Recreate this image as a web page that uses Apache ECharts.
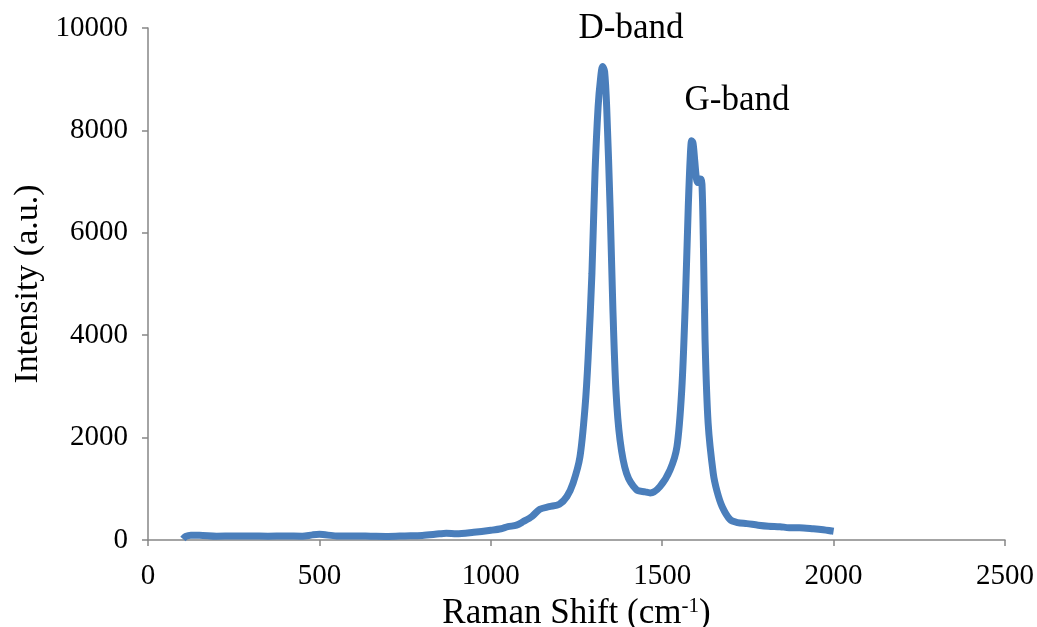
<!DOCTYPE html>
<html>
<head>
<meta charset="utf-8">
<script src="https://cdn.jsdelivr.net/npm/echarts@6/dist/echarts.min.js"></script>
<style>
  html, body { margin: 0; padding: 0; background: #fff; }
  #chart { width: 1037px; height: 627px; }
</style>
</head>
<body>
<div id="chart"></div>
<script>
// Raman spectrum
var ramanShift = [102, 110, 125, 150, 200, 250, 300, 350, 400, 450, 480, 500, 550, 600, 650, 700, 750, 800, 850, 870,
  900, 950, 1000, 1030, 1050, 1075, 1095, 1120, 1143, 1170, 1200, 1222, 1240, 1260, 1275, 1284, 1295, 1304, 1313, 1320,
  1326, 1332, 1338, 1348, 1356, 1365, 1377, 1396, 1425, 1450, 1465, 1493, 1523, 1543, 1557, 1567, 1576, 1582, 1586, 1590,
  1595, 1600, 1604, 1608, 1612, 1616, 1620, 1625, 1634, 1649, 1660, 1675, 1698, 1720, 1747, 1780, 1810, 1844, 1870, 1900,
  1941, 1970, 2000];
var intensity = [20, 70, 95, 95, 75, 80, 80, 75, 80, 75, 100, 110, 80, 80, 75, 70, 80, 90, 120, 130,
  120, 150, 190, 220, 260, 290, 360, 460, 600, 650, 700, 850, 1110, 1620, 2600, 3570, 5210, 7170, 8460, 9000,
  9250, 9150, 8460, 6500, 4550, 2930, 1950, 1300, 980, 940, 920, 1040, 1370, 1820, 2930, 4550, 6500, 7500, 7800, 7750,
  7400, 7050, 6980, 7050, 7050, 6950, 5860, 3900, 2280, 1300, 950, 650, 400, 340, 320, 290, 270, 260, 240, 240,
  220, 200, 170];

var bandNames = ["D-band", "G-band"];
var bandPos = [[1409, 9980], [1718, 8574]];

var xTicks = { min: 0, max: 2500, interval: 500 };
var yTicks = { min: 0, max: 10000, interval: 2000 };

var serif = "'Liberation Serif', 'Times New Roman', serif";
var axisGray = "#868686";

var myChart = echarts.init(document.getElementById("chart"));

var points = ramanShift.map(function (x, i) { return [x, intensity[i]]; });

myChart.setOption({
  animation: false,
  grid: {
    left: 148,
    right: 32,
    top: 28,
    bottom: 87,
    containLabel: false,
    outerBoundsMode: "none"
  },
  xAxis: {
    type: "value",
    min: xTicks.min,
    max: xTicks.max,
    interval: xTicks.interval,
    name: "{a|Raman Shift (cm}{s|-1}{a|)}",
    nameLocation: "middle",
    nameGap: 50,
    nameTextStyle: {
      rich: {
        a: { fontFamily: serif, fontSize: 35, color: "#000" },
        s: { fontFamily: serif, fontSize: 21, color: "#000", verticalAlign: "top" }
      }
    },
    axisLine: { lineStyle: { color: axisGray, width: 1.5 } },
    axisTick: { show: true, length: 6, lineStyle: { color: axisGray, width: 1.5 } },
    axisLabel: {
      fontFamily: serif, fontSize: 29, color: "#000", margin: 22,
      formatter: function (v) { return String(v); }
    },
    splitLine: { show: false }
  },
  yAxis: {
    type: "value",
    min: yTicks.min,
    max: yTicks.max,
    interval: yTicks.interval,
    name: "Intensity (a.u.)",
    nameLocation: "middle",
    nameRotate: 90,
    nameGap: 96,
    nameTextStyle: { fontFamily: serif, fontSize: 34, color: "#000" },
    axisLine: { show: true, lineStyle: { color: axisGray, width: 1.5 } },
    axisTick: { show: true, length: 6, lineStyle: { color: axisGray, width: 1.5 } },
    axisLabel: {
      fontFamily: serif, fontSize: 29, color: "#000", margin: 20,
      formatter: function (v) { return String(v); }
    },
    splitLine: { show: false }
  },
  series: [
    {
      type: "line",
      data: points,
      showSymbol: false,
      smooth: 0.3,
      lineStyle: { color: "#4A7EBB", width: 7 },
      itemStyle: { color: "#4A7EBB" },
      markPoint: {
        symbol: "circle",
        symbolSize: 0,
        silent: true,
        label: {
          show: true,
          position: "inside",
          fontFamily: serif,
          fontSize: 35,
          color: "#000",
          formatter: function (p) { return p.name; }
        },
        data: bandNames.map(function (n, i) {
          return { name: n, coord: bandPos[i] };
        })
      }
    }
  ]
});
window.addEventListener("resize", function () {
  myChart.resize();
});
</script>
</body>
</html>
